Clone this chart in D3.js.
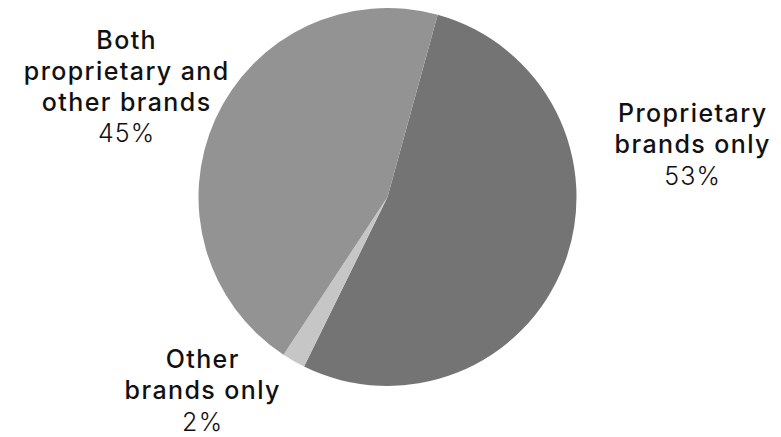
<!DOCTYPE html>
<html><head><meta charset="utf-8">
<script src="https://cdn.jsdelivr.net/npm/d3@7"></script>
<style>body{margin:0;background:#fff}svg{display:block}</style>
</head><body>
<svg id="c" width="781" height="437"></svg>
<script>
const categories = ["Proprietary brands only", "Other brands only", "Both proprietary and other brands"];
const values = [53, 2, 45];
const labelLines = [["Proprietary", "brands only"], ["Other", "brands only"], ["Both", "proprietary and", "other brands"]];
const pctLabels = ["53%", "2%", "45%"];
const colors = ["#747474", "#c6c6c6", "#939393"];

const svg = d3.select("#c");
const cx = 387.5, cy = 197, r = 189;
const startOffset = 15.4 * Math.PI / 180;
const pie = d3.pie().sort(null).value(d => d)
  .startAngle(startOffset).endAngle(startOffset + 2 * Math.PI);
const arcs = pie(values);
const arc = d3.arc().innerRadius(0).outerRadius(r);
const g = svg.append("g").attr("transform", `translate(${cx},${cy})`);
g.selectAll("path").data(arcs).join("path")
  .attr("d", arc).attr("fill", (d, i) => colors[i]);

const labelPos = [[692, 122], [202, 368], [126, 49]];
const lh = 30.8, pctGap = 31.8;
categories.forEach((c, i) => {
  const x = labelPos[i][0] + 0.7;
  const t = svg.append("text").attr("text-anchor", "middle")
    .attr("font-family", "Inter, 'Open Sans', sans-serif").attr("font-size", 25).attr("fill", "#111");
  const lines = labelLines[i];
  lines.forEach((ln, j) => {
    t.append("tspan").attr("x", x).attr("y", labelPos[i][1] + j * lh)
      .attr("font-weight", 500).attr("letter-spacing", 1.4).text(ln);
  });
  t.append("tspan").attr("x", x).attr("y", labelPos[i][1] + (lines.length - 1) * lh + pctGap)
    .attr("font-weight", 300).attr("letter-spacing", 1.2).text(pctLabels[i]);
});
</script>
</body></html>
